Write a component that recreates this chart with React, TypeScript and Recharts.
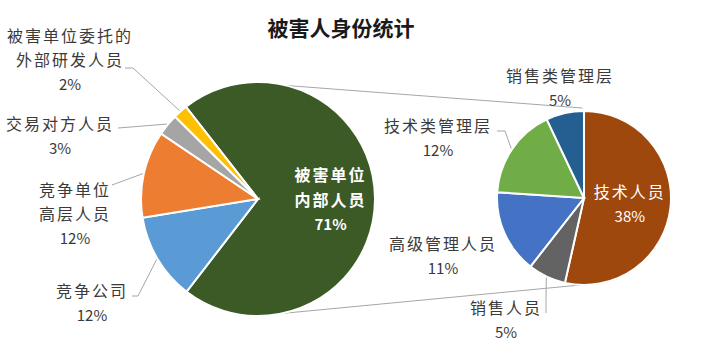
import React from 'react';
import { PieChart, Pie, Cell, Customized } from 'recharts';

// main pie
const MAIN_NAMES = ['被害单位内部人员', '竞争公司', '竞争单位高层人员', '交易对方人员', '被害单位委托的外部研发人员'];
const MAIN_VALUES = [71, 12, 12, 3, 2];
const MAIN_COLORS = ['#3b5a26', '#5b9bd5', '#ed7d31', '#a5a5a5', '#ffc000'];

// breakdown of 被害单位内部人员
const SUB_NAMES = ['技术人员', '销售人员', '高级管理人员', '技术类管理层', '销售类管理层'];
const SUB_VALUES = [38, 5, 11, 12, 5];
const SUB_COLORS = ['#9e480e', '#636363', '#4472c4', '#70ad47', '#255e91'];

const TITLE = '被害人身份统计';
const TOTAL = MAIN_VALUES.reduce((a, b) => a + b, 0);

const W = 712;
const H = 359;
const MAIN = { cx: 258, cy: 199, r: 117, start: 128 };
const SUB = { cx: 584, cy: 198, r: 87, start: 90 };
const LH = 24.5;
const FONT = '"Noto Sans CJK SC", "Noto Sans", sans-serif';
const TEXT = '#3a3a3a';
const LINE = '#a6a6a6';

// label placement, offsets from the pie centre
const MAIN_LABELS: any[] = [
 { lines: ['被害单位', '内部人员'], inside: 0.62, bold: true },
 { lines: ['竞争公司'], dx: -166, dy: 103, leader: [[-126, 97], [-120, 97]] },
 { lines: ['竞争单位', '高层人员'], dx: -183, dy: 14, leader: [[-146, -14]] },
 { lines: ['交易对方人员'], dx: -198, dy: -64, leader: [[-140, -71]] },
 { lines: ['被害单位委托的', '外部研发人员'], dx: -188, dy: -140, leader: [[-133, -131], [-125, -131]] },
];

const SUB_LABELS: any[] = [
 { lines: ['技术人员'], inside: 0.53 },
 { lines: ['销售人员'], dx: -78, dy: 121, leader: [[-38, 115], [-38, 100]] },
 { lines: ['高级管理人员'], dx: -141, dy: 57 },
 { lines: ['技术类管理层'], dx: -146, dy: -61, leader: [[-87, -67], [-79, -67]] },
 { lines: ['销售类管理层'], dx: -24, dy: -111 },
];

const RAD = Math.PI / 180;
const polar = (cx: number, cy: number, r: number, a: number) => ({
 x: cx + r * Math.cos(-a * RAD),
 y: cy + r * Math.sin(-a * RAD),
});

const makeLabel = (layout: any[]) => (props: any) => {
 const { cx, cy, midAngle, outerRadius, index, value } = props;
 const L = layout[index];
 const pct = `${Math.round((value / TOTAL) * 100)}%`;
 let bx = cx + (L.dx ?? 0);
 let by = cy + (L.dy ?? 0);
 if (L.inside) {
 const p = polar(cx, cy, outerRadius * L.inside, midAngle);
 bx = p.x;
 by = p.y;
 }
 const lines = [...L.lines, pct];
 const top = by - ((lines.length - 1) * LH) / 2;
 const color = L.inside ? '#ffffff' : TEXT;
 let leader = null;
 if (L.leader) {
 const end = polar(cx, cy, outerRadius + 1, midAngle);
 const pts = [...L.leader.map(([x, y]: number[]) => `${cx + x},${cy + y}`), `${end.x},${end.y}`];
 leader = <polyline points={pts.join(' ')} fill="none" stroke={LINE} strokeWidth={1} />;
 }
 return (
 <g key={`lbl-${index}`}>
 {leader}
 {lines.map((t, i) => (
 <text
 key={i}
 x={bx}
 y={top + i * LH}
 textAnchor="middle"
 dominantBaseline="central"
 fill={color}
 fontFamily={FONT}
 fontSize={i === lines.length - 1 ? 15 : 16}
 fontWeight={L.bold ? 700 : 400}
 letterSpacing={i === lines.length - 1 ? 0 : 2}
 >
 {t}
 </text>
 ))}
 </g>
 );
};

const Connectors = () => {
 const a = polar(MAIN.cx, MAIN.cy, MAIN.r, 76);
 const b = polar(SUB.cx, SUB.cy, SUB.r + 3, 91);
 const c = polar(MAIN.cx, MAIN.cy, MAIN.r, -78);
 const d = polar(SUB.cx, SUB.cy, SUB.r, -92);
 return (
 <g>
 <line x1={a.x} y1={a.y} x2={b.x} y2={b.y} stroke={LINE} strokeWidth={1} />
 <line x1={c.x} y1={c.y} x2={d.x} y2={d.y} stroke={LINE} strokeWidth={1} />
 <text
 x={341}
 y={27}
 textAnchor="middle"
 dominantBaseline="central"
 fontFamily={FONT}
 fontSize={21}
 fontWeight={700}
 fill="#1a1a1a"
 >
 {TITLE}
 </text>
 </g>
 );
};

export default function App() {
 const mainData = MAIN_NAMES.map((name, i) => ({ name, value: MAIN_VALUES[i] }));
 const subData = SUB_NAMES.map((name, i) => ({ name, value: SUB_VALUES[i] }));

 return (
 <div style={{ position: 'absolute', left: 0, top: 0, width: W, height: H, background: '#fff' }}>
 <PieChart width={W} height={H} margin={{ top: 0, right: 0, bottom: 0, left: 0 }}>
 <Customized component={Connectors} />
 <Pie
 data={mainData}
 dataKey="value"
 nameKey="name"
 cx={MAIN.cx}
 cy={MAIN.cy}
 outerRadius={MAIN.r}
 startAngle={MAIN.start}
 endAngle={MAIN.start - 360}
 stroke="#ffffff"
 strokeWidth={2}
 label={makeLabel(MAIN_LABELS)}
 labelLine={false}
 isAnimationActive={false}
 >
 {mainData.map((d, i) => (
 <Cell key={d.name} fill={MAIN_COLORS[i]} />
 ))}
 </Pie>
 <Pie
 data={subData}
 dataKey="value"
 nameKey="name"
 cx={SUB.cx}
 cy={SUB.cy}
 outerRadius={SUB.r}
 startAngle={SUB.start}
 endAngle={SUB.start - 360}
 stroke="#ffffff"
 strokeWidth={2}
 label={makeLabel(SUB_LABELS)}
 labelLine={false}
 isAnimationActive={false}
 >
 {subData.map((d, i) => (
 <Cell key={d.name} fill={SUB_COLORS[i]} />
 ))}
 </Pie>
 </PieChart>
 </div>
 );
}
